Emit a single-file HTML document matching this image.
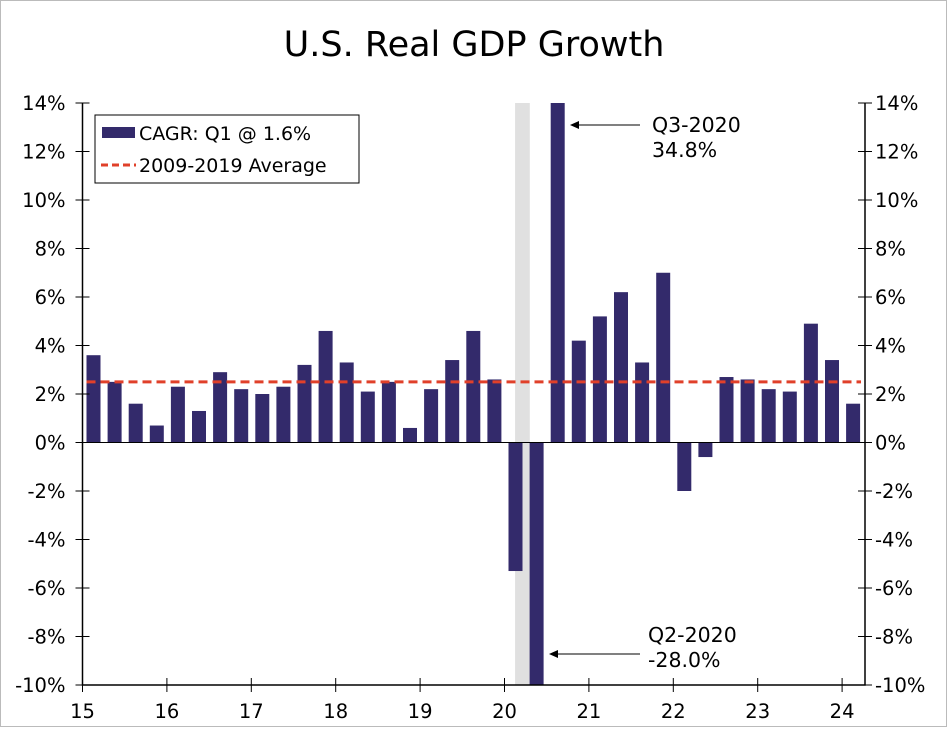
<!DOCTYPE html>
<html><head><meta charset="utf-8"><style>
body{margin:0;background:#fff;}
svg text{font-family:"DejaVu Sans","Liberation Sans",sans-serif;fill:#000;}
</style></head><body>
<svg width="947" height="727">
<rect x="0.5" y="0.5" width="946" height="726" fill="#fff" stroke="#bbb"/>
<text x="474" y="56" font-size="35" text-anchor="middle">U.S. Real GDP Growth</text>
<g id="plot"></g>
</svg>
<script>
const years=["15","16","17","18","19","20","21","22","23","24"];
const yTicks=[14,12,10,8,6,4,2,0,-2,-4,-6,-8,-10];
const gdp=[3.6,2.5,1.6,0.7, 2.3,1.3,2.9,2.2, 2.0,2.3,3.2,4.6, 3.3,2.1,2.5,0.6, 2.2,3.4,4.6,2.6, -5.3,-28.0,34.8,4.2, 5.2,6.2,3.3,7.0, -2.0,-0.6,2.7,2.6, 2.2,2.1,4.9,3.4, 1.6];
const avg=[2.5];
const recession=[20.5,21.2];
const NS="http://www.w3.org/2000/svg";
const g=document.getElementById('plot');
const L=82.5,R=865,T=103,B=685,ymin=-10,ymax=14;
const qw=21.1;
const yS=v=>T+(ymax-Math.max(ymin,Math.min(ymax,v)))/(ymax-ymin)*(B-T);
const xQ=q=>L+q*qw;
function el(t,a,p){const e=document.createElementNS(NS,t);for(const k in a)e.setAttribute(k,a[k]);(p||g).appendChild(e);return e;}
const rs=el('rect',{x:xQ(recession[0]),y:T,width:xQ(recession[1])-xQ(recession[0]),height:B-T,fill:'#e0e0e0'});


gdp.forEach((v,i)=>{const cx=xQ(i)+11;const y0=yS(0),y1=yS(v);
const b=el('rect',{x:cx-7,y:Math.min(y0,y1),width:14,height:Math.abs(y1-y0),fill:'#332a6b'});

});
const z=el('line',{x1:L,x2:R,y1:yS(0),y2:yS(0),stroke:'#000','stroke-width':1});


const a=el('line',{x1:L+4,x2:R-4,y1:yS(avg[0]),y2:yS(avg[0]),stroke:'#e0402a','stroke-width':3,'stroke-dasharray':'9,5'});


const ax=el('path',{d:`M${L},${T}V${B}H${R}V${T}`,fill:'none',stroke:'#000','stroke-width':1.5});


yTicks.forEach(v=>{const y=yS(v);
el('line',{x1:L-7,x2:L+7,y1:y,y2:y,stroke:'#000'});el('line',{x1:R-7,x2:R+7,y1:y,y2:y,stroke:'#000'});
const t1=el('text',{x:L-17,y:y+7,'font-size':19.5,'text-anchor':'end'});t1.textContent=v+'%';


const t2=el('text',{x:R+10,y:y+7,'font-size':19.5});t2.textContent=v+'%';

});
years.forEach((s,i)=>{const x=xQ(i*4);
el('line',{x1:x,x2:x,y1:B-7,y2:B+7,stroke:'#000'});
const t=el('text',{x:x,y:B+33,'font-size':19.5,'text-anchor':'middle'});t.textContent=s;

});
function ann(x1,x2,y,l1,l2,tx,ty,name){
el('line',{x1:x1+8,x2:x2,y1:y,y2:y,stroke:'#000'});
el('path',{d:`M${x1},${y}l9,-4v8z`,fill:'#000'});
const t=el('text',{x:tx,y:ty,'font-size':20.5});t.textContent=l1;


const t2=el('text',{x:tx,y:ty+25,'font-size':20.5});t2.textContent=l2;

}
ann(570,640,125,'Q3-2020','34.8%',652,132,'q3-2020');
ann(549,640,654,'Q2-2020','-28.0%',648,642,'q2-2020');
const lg=el('g',{});


el('rect',{x:95,y:115,width:264,height:68,fill:'#fff',stroke:'#000'},lg);
el('rect',{x:102,y:127,width:33,height:11,fill:'#332a6b'},lg);
const l1=el('text',{x:139,y:140,'font-size':19},lg);l1.textContent='CAGR: Q1 @ 1.6%';


el('line',{x1:101,x2:136,y1:165,y2:165,stroke:'#e0402a','stroke-width':3,'stroke-dasharray':'7,4'},lg);
const l2=el('text',{x:139,y:172,'font-size':19},lg);l2.textContent='2009-2019 Average';


</script>
</body></html>
